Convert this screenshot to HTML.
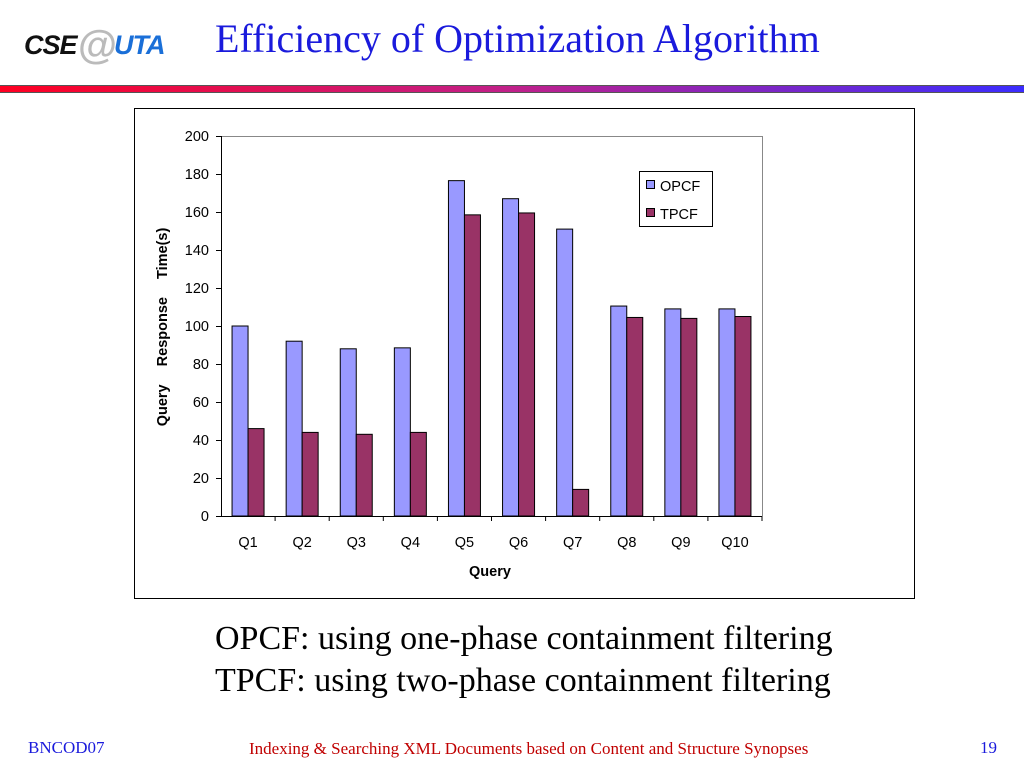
<!DOCTYPE html>
<html><head><meta charset="utf-8"><style>
body{margin:0;width:1024px;height:768px;background:#fff;position:relative;overflow:hidden;font-family:"Liberation Sans",sans-serif}
.abs{position:absolute;white-space:nowrap}
</style></head><body>
<div class="abs" style="left:24px;top:26px;width:140px;height:40px">
<span style="position:absolute;left:0;top:4px;font:italic bold 27px 'Liberation Sans',sans-serif;color:#111;letter-spacing:-1px">CSE</span>
<span style="position:absolute;left:54px;top:-3px;font:bold 40px 'Liberation Sans',sans-serif;color:#bbb">@</span>
<span style="position:absolute;left:90px;top:4px;font:italic bold 27px 'Liberation Sans',sans-serif;color:#1a6fd8;letter-spacing:-1px">UTA</span>
</div>
<div class="abs" style="left:215px;top:15px;font:40px 'Liberation Serif',serif;color:#1a1adc">Efficiency of Optimization Algorithm</div>
<div class="abs" style="left:0;top:85px;width:1024px;height:8px;background:linear-gradient(to right,#ff0022,#c0208a 50%,#3a2cff);border-top:1px solid #555;border-bottom:1px solid #555;box-sizing:border-box"></div>
<svg class="abs" style="left:0;top:0" width="1024" height="768">
<rect x="134.5" y="108.5" width="780" height="490" fill="#fff" stroke="#000"/>
<g id="g"></g>
</svg>
<div class="abs" style="left:215px;top:620px;font:34px 'Liberation Serif',serif">OPCF: using one-phase containment filtering</div>
<div class="abs" style="left:215px;top:662px;font:34px 'Liberation Serif',serif">TPCF: using two-phase containment filtering</div>
<div class="abs" style="left:28px;top:738px;font:17px 'Liberation Serif',serif;color:#1a1adc">BNCOD07</div>
<div class="abs" style="left:249px;top:739px;font:17px 'Liberation Serif',serif;color:#c00000">Indexing &amp; Searching XML Documents based on Content and Structure Synopses</div>
<div class="abs" style="left:980px;top:738px;font:17px 'Liberation Serif',serif;color:#1a1adc">19</div>
<script>
const categories=["Q1","Q2","Q3","Q4","Q5","Q6","Q7","Q8","Q9","Q10"];
const opcf=[100,92,88,88.5,176.5,167,151,110.5,109,109];
const tpcf=[46,44,43,44,158.5,159.5,14,104.5,104,105];
const yTicks=[0,20,40,60,80,100,120,140,160,180,200];
const X0=221,X1=762,Y0=516,Y1=136,YMAX=200;
const cw=(X1-X0)/categories.length;
const y=v=>Y0-(v/YMAX)*(Y0-Y1);
const xc=i=>X0+cw*(i+0.5);
const g=document.getElementById('g');
const NS='http://www.w3.org/2000/svg';
function mk(t,a,txt){const e=document.createElementNS(NS,t);for(const k in a)e.setAttribute(k,a[k]);if(txt!=null)e.textContent=txt;g.appendChild(e);return e;}
let e;
e=mk('line',{x1:X0,y1:Y1+0.5,x2:X1,y2:Y1+0.5,stroke:'#888'});


e=mk('line',{x1:X1+0.5,y1:Y1,x2:X1+0.5,y2:Y0,stroke:'#888'});


yTicks.forEach(v=>{
 e=mk('line',{x1:X0-5,y1:y(v)+0.5,x2:X0,y2:y(v)+0.5,stroke:'#000'});
 
 
 e=mk('text',{x:X0-12,y:y(v)+5,'text-anchor':'end','font-size':14.5},v);
 
 
});
categories.forEach((c,i)=>{
 const bw=16;
 e=mk('rect',{x:xc(i)-bw,y:y(opcf[i]),width:bw,height:Y0-y(opcf[i]),fill:'#9999ff',stroke:'#000'});
 
 
 e=mk('rect',{x:xc(i),y:y(tpcf[i]),width:bw,height:Y0-y(tpcf[i]),fill:'#993366',stroke:'#000'});
 
 
 e=mk('line',{x1:X0+cw*(i+1),y1:Y0,x2:X0+cw*(i+1),y2:Y0+5,stroke:'#000'});
 
 
 e=mk('text',{x:xc(i),y:Y0+31,'text-anchor':'middle','font-size':14.5},c);
 
 
});
e=mk('line',{x1:X0+0.5,y1:Y1,x2:X0+0.5,y2:Y0,stroke:'#000'});


e=mk('line',{x1:X0,y1:Y0+0.5,x2:X1,y2:Y0+0.5,stroke:'#000'});


e=mk('text',{x:490,y:576,'text-anchor':'middle','font-size':14.5,'font-weight':'bold'},'Query');


e=mk('text',{x:0,y:0,'text-anchor':'middle','font-size':14.5,'font-weight':'bold','word-spacing':'14',transform:'translate(167,327) rotate(-90)'},'Query Response Time(s)');


e=mk('rect',{x:639.5,y:171.5,width:73,height:55,fill:'#fff',stroke:'#000'});


e=mk('rect',{x:646.5,y:180.5,width:8,height:8,fill:'#9999ff',stroke:'#000'});


e=mk('text',{x:660,y:191,'font-size':14.5},'OPCF');


e=mk('rect',{x:646.5,y:208.5,width:8,height:8,fill:'#993366',stroke:'#000'});


e=mk('text',{x:660,y:219,'font-size':14.5},'TPCF');


</script>
</body></html>
